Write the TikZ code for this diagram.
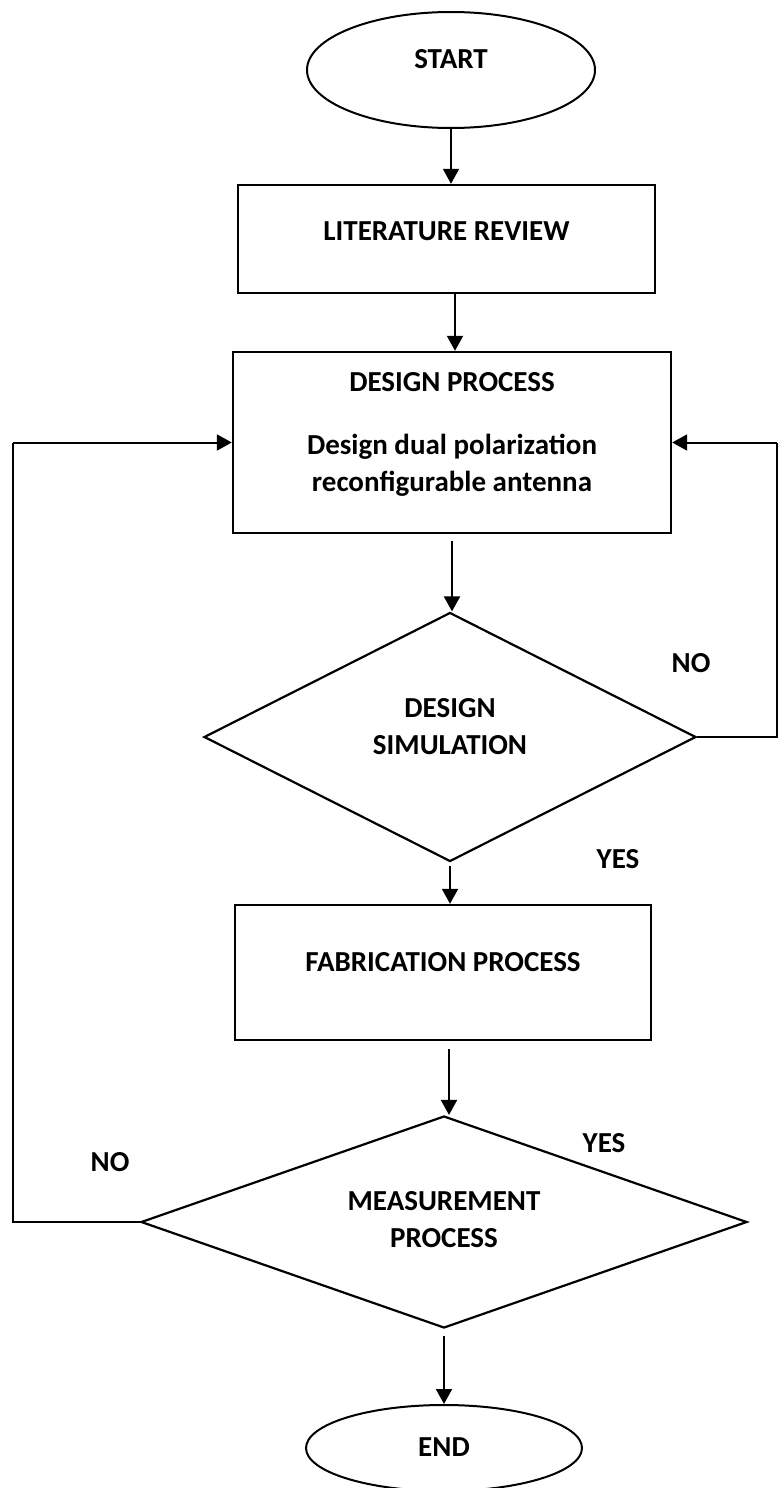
\documentclass[tikz,border=0pt]{standalone}
\usepackage{fontspec}
\setmainfont{Carlito}
\usetikzlibrary{shapes.geometric,arrows.meta}
\begin{document}
\begin{tikzpicture}[x=1pt,y=-1pt,
  every node/.style={font=\bfseries\fontsize{29}{37}\selectfont, inner sep=0pt},
  box/.style={draw, line width=2.4pt, rectangle},
  dec/.style={draw, line width=2.2pt, diamond},
  term/.style={draw, line width=2pt, ellipse},
  arr/.style={line width=2pt, -{Triangle[length=15pt,width=16pt]}},
  conn/.style={line width=2pt},
  lbl/.style={anchor=center}]
\useasboundingbox (0,0) rectangle (778,1488);

\node[term, minimum width=288pt, minimum height=116pt, text height=19pt, text depth=21pt] (start) at (451,70) {START};
\node[box, minimum width=417pt, minimum height=108pt, text height=19pt, text depth=17pt] (lit) at (446.5,239) {LITERATURE REVIEW};
\node[box, minimum width=438pt, minimum height=181pt] (design) at (452,442.5)
  {\raisebox{8pt}[\height][\depth]{\begin{tabular}{@{}c@{}}DESIGN PROCESS\\[26pt]Design dual polarization\\reconfigurable antenna\end{tabular}}};
\node[dec, aspect=1.98, minimum width=492pt, minimum height=249pt] (sim) at (450,737)
  {\raisebox{8pt}[\height][\depth]{\begin{tabular}{@{}c@{}}DESIGN\\SIMULATION\end{tabular}}};
\node[box, minimum width=416pt, minimum height=135pt, text height=19pt, text depth=22pt] (fab) at (443,972.5) {FABRICATION PROCESS};
\node[dec, aspect=2.86, minimum width=606pt, minimum height=212pt] (meas) at (444,1222)
  {\begin{tabular}{@{}c@{}}MEASUREMENT\\PROCESS\end{tabular}};
\node[term, minimum width=276pt, minimum height=86pt, text height=19pt, text depth=3pt] (end) at (444,1448) {END};

\coordinate (rx) at (777,0);
\coordinate (lx) at (13,0);

\draw[arr] (start.south) -- (start.south |- lit.north);
\draw[arr] ([xshift=8.5pt]lit.south) -- ([xshift=8.5pt]lit.south |- design.north);
\draw[arr] ([yshift=-7pt]design.south) -- (design.south |- sim.north);
\draw[arr] ([yshift=-3pt]sim.south) -- (sim.south |- fab.north);
\draw[arr] ([xshift=6pt,yshift=-8pt]fab.south) -- ([xshift=6pt]fab.south |- meas.north);
\draw[arr] ([yshift=-7pt]meas.south) -- (end.north);

\draw[conn] (sim.east) -- (sim.east -| rx) -- (rx |- design.east);
\draw[arr] (rx |- design.east) -- (design.east);
\draw[conn] (meas.west) -- (meas.west -| lx) -- (lx |- design.west);
\draw[arr] (lx |- design.west) -- (design.west);

\node[lbl] (no1) at (691,663) {NO};
\node[lbl] (yes1) at (618,859) {YES};
\node[lbl] (yes2) at (604,1143) {YES};
\node[lbl] (no2) at (110,1162) {NO};
\end{tikzpicture}
\end{document}
